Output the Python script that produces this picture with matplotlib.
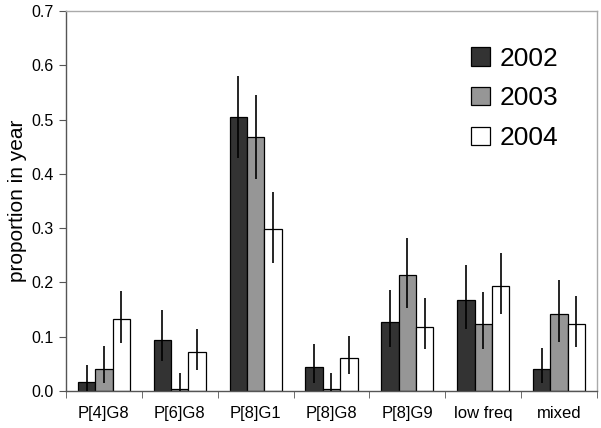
import numpy as np
import matplotlib.pyplot as plt

plt.rcParams['font.family'] = ['Liberation Sans', 'DejaVu Sans']

categories = ['P[4]G8', 'P[6]G8', 'P[8]G1', 'P[8]G8', 'P[8]G9', 'low freq', 'mixed']
years = ['2002', '2003', '2004']

# proportions per year
v2002 = [0.017, 0.094, 0.505, 0.045, 0.128, 0.168, 0.040]
v2003 = [0.040, 0.004, 0.468, 0.004, 0.213, 0.123, 0.142]
v2004 = [0.133, 0.071, 0.298, 0.061, 0.118, 0.194, 0.123]

# confidence interval ends (low, high)
lo2002 = [0.000, 0.055, 0.429, 0.015, 0.082, 0.115, 0.014]
hi2002 = [0.048, 0.149, 0.581, 0.087, 0.187, 0.232, 0.079]
lo2003 = [0.015, 0.000, 0.390, 0.000, 0.153, 0.077, 0.091]
hi2003 = [0.083, 0.033, 0.546, 0.033, 0.282, 0.182, 0.204]
lo2004 = [0.089, 0.039, 0.236, 0.032, 0.077, 0.141, 0.082]
hi2004 = [0.185, 0.114, 0.366, 0.101, 0.171, 0.254, 0.175]

values = [v2002, v2003, v2004]
lows = [lo2002, lo2003, lo2004]
highs = [hi2002, hi2003, hi2004]
colors = ['#333333', '#969696', '#ffffff']

fig = plt.figure(figsize=(6.01, 4.28), dpi=100)
ax = fig.add_axes([0.1098, 0.0864, 0.8835, 0.8879])

x = np.arange(len(categories))
w = 0.229
for i in range(3):
    v = np.array(values[i])
    err = np.array([v - np.array(lows[i]), np.array(highs[i]) - v])
    ax.bar(x + (i - 1) * w, v, w, color=colors[i], edgecolor='black',
           linewidth=0.9, label=years[i], zorder=2)
    ax.errorbar(x + (i - 1) * w, v, yerr=err, fmt='none', ecolor='black',
                elinewidth=1.2, capsize=0, zorder=3)

ax.set_xlim(-0.5, len(categories) - 0.5)
ax.set_ylim(0, 0.7)
ax.set_yticks(np.arange(0, 0.71, 0.1))
ax.set_yticklabels(['%.1f' % t for t in np.arange(0, 0.71, 0.1)], fontsize=11.5)
ax.set_xticks(x)
ax.set_xticklabels(categories, fontsize=12)
ax.tick_params(axis='x', length=0, pad=11)
ax.set_xticks(np.arange(-0.5, len(categories)), minor=True)
ax.tick_params(axis='x', which='minor', length=5, direction='out', color='#555555')
ax.tick_params(axis='y', length=5, direction='out', color='#555555', pad=4)
ax.set_ylabel('proportion in year', fontsize=15, labelpad=3)

ax.spines['left'].set_color('#555555')
ax.spines['bottom'].set_color('#555555')
ax.spines['top'].set_color('#aaaaaa')
ax.spines['right'].set_color('#aaaaaa')
for s in ax.spines.values():
    s.set_linewidth(1.0)

ax.legend(loc='upper right', bbox_to_anchor=(0.963, 0.955), frameon=False,
          fontsize=19, handlelength=0.7, handleheight=0.7, handletextpad=0.4,
          labelspacing=0.6, borderaxespad=0.3)

fig.savefig('out.png', dpi=100)
